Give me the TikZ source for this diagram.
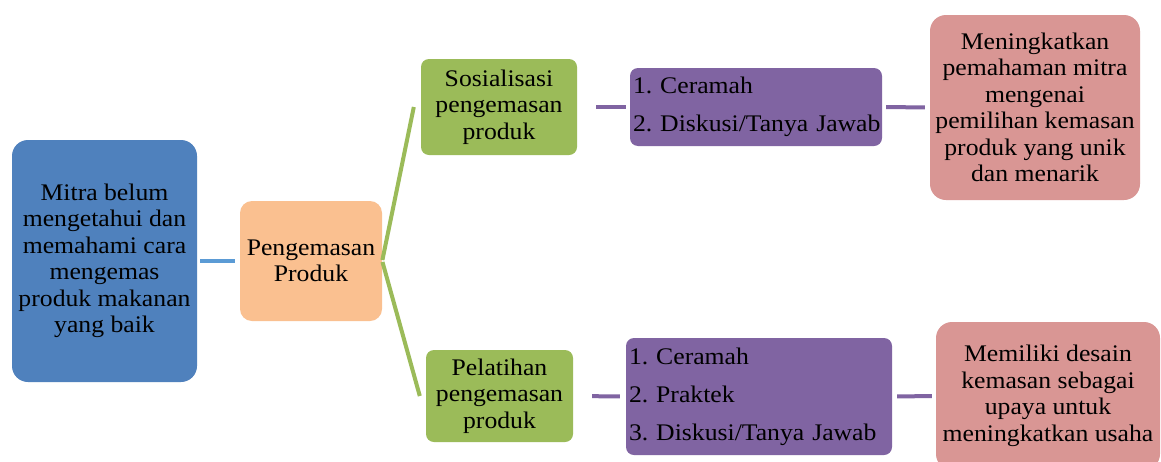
\documentclass[tikz,border=0pt]{standalone}
\usepackage{fontspec}
\setmainfont[FakeStretch=1.08]{Liberation Serif}
\definecolor{cBlue}{HTML}{4F81BD}
\definecolor{cOrange}{HTML}{FAC090}
\definecolor{cGreen}{HTML}{9BBB59}
\definecolor{cPurple}{HTML}{8064A2}
\definecolor{cRed}{HTML}{D99694}
\definecolor{cLine}{HTML}{5B9BD5}
\begin{document}
\frenchspacing
\begin{tikzpicture}[x=1pt,y=-1pt,
  bx/.style={inner sep=0pt, align=center, text=black,
    font=\fontsize{23.8}{26.5}\selectfont},
  lst/.style={inner xsep=3pt, inner ysep=0pt, align=left, text=black,
    font=\fontsize{23.8}{38}\selectfont},
  con/.style={line width=4pt}]
\clip (0,0) rectangle (1161,461);
\fill[white] (0,0) rectangle (1161,461);
\node[bx, fill=cBlue, rounded corners=16pt, minimum width=185pt, minimum height=242pt] (mitra) at (104.5,261)
  {Mitra belum\\mengetahui dan\\memahami cara\\mengemas\\produk makanan\\yang baik};
\node[bx, fill=cOrange, rounded corners=12pt, minimum width=142pt, minimum height=120pt] (kemas) at (311,261)
  {Pengemasan\\Produk};
\node[bx, fill=cGreen, rounded corners=8pt, minimum width=156pt, minimum height=96pt] (sos) at (499,107)
  {Sosialisasi\\pengemasan\\produk};
\node[bx, fill=cGreen, rounded corners=8pt, minimum width=147pt, minimum height=92pt] (pel) at (499.5,396)
  {Pelatihan\\pengemasan\\produk};
\node[lst, fill=cPurple, rounded corners=8pt, text width=246pt, minimum height=78pt] (m1) at (756,107)
  {\mbox{1. Ceramah}\\\mbox{2. Diskusi/Tanya Jawab}};
\node[lst, fill=cPurple, rounded corners=8pt, text width=260pt, minimum height=117pt] (m2) at (759,396.5)
  {\mbox{1. Ceramah}\\\mbox{2. Praktek}\\\mbox{3. Diskusi/Tanya Jawab}};
\node[bx, fill=cRed, rounded corners=16pt, minimum width=210pt, minimum height=185pt] (h1) at (1035,107.5)
  {Meningkatkan\\pemahaman mitra\\mengenai\\pemilihan kemasan\\produk yang unik\\dan menarik};
\node[bx, fill=cRed, rounded corners=16pt, minimum width=224pt, minimum height=148pt] (h2) at (1048,396)
  {Memiliki desain\\kemasan sebagai\\upaya untuk\\meningkatkan usaha};
\draw[con, cLine, shorten <=3pt, shorten >=5pt] (mitra.east) -- (kemas.west);
\draw[con, cGreen, shorten <=1pt] (kemas.east) -- ([xshift=-7pt]sos.west);
\draw[con, cGreen, shorten <=1pt] (kemas.east) -- ([xshift=-6pt]pel.west);
\draw[con, cPurple, shorten <=19pt, shorten >=4pt] (sos.east) -- (m1.west);
\draw[con, cPurple, shorten <=4pt, shorten >=5pt] (m1.east) -- (h1.west);
\draw[con, cPurple, shorten <=19pt, shorten >=6pt] (pel.east) -- (m2.west);
\draw[con, cPurple, shorten <=5pt, shorten >=4pt] (m2.east) -- (h2.west);
\end{tikzpicture}
\end{document}
